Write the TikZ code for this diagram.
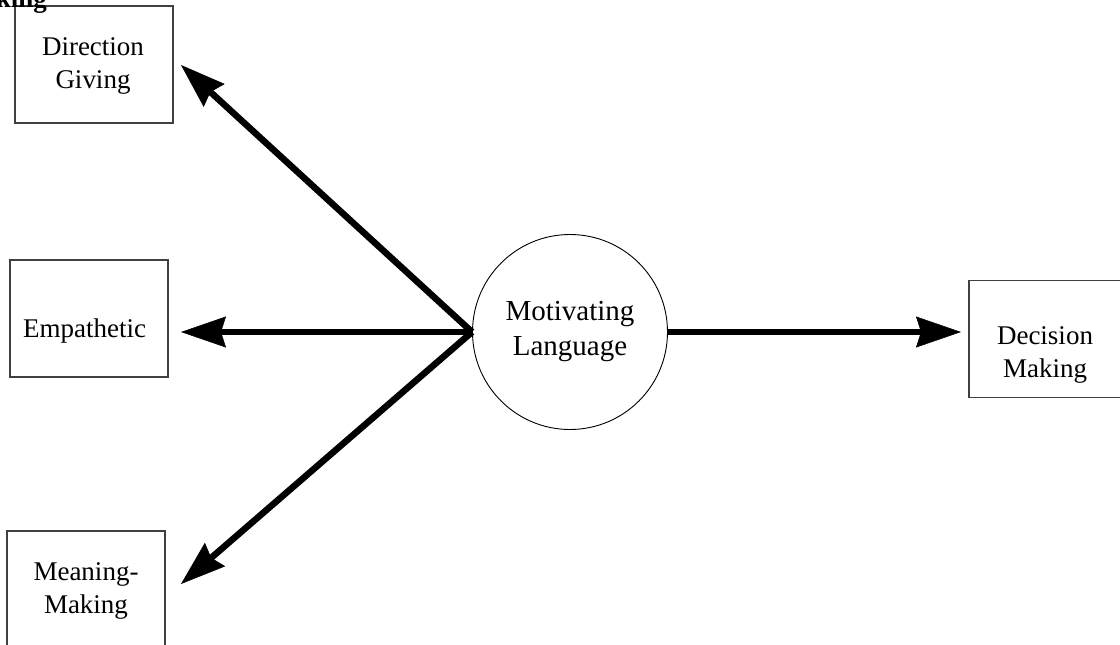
\documentclass[tikz,border=0pt]{standalone}
\usepackage{fontspec}
\setmainfont{Liberation Serif}
\usetikzlibrary{arrows.meta}
\begin{document}
\begin{tikzpicture}[x=1pt,y=-1pt,
  box/.style={draw=black!75,line width=1.3pt,minimum width=158pt,minimum height=117pt,inner sep=0pt},
  lbl/.style={align=center,inner sep=0pt,font=\fontsize{27}{33}\selectfont},
  hub/.style={draw,circle,line width=0.9pt,minimum size=195pt,inner sep=0pt,align=center,font=\fontsize{29}{35}\selectfont},
  link/.style={line width=6.5pt,-{Stealth[length=45pt,width=31pt,inset=5pt,line width=0.5pt]}}]
\useasboundingbox (0,0) rectangle (1120,645);
% boxes
\node[box] (dg) at (94,64.5) {};
\node[box] (em) at (89,318.5) {};
\node[box] (mm) at (86,589.5) {};
\node[box] (dm) at (1048,339) {};
% labels
\node[lbl] (dgt) at (93,65.7) {Direction\\Giving};
\node[lbl] (emt) at (84.5,331) {Empathetic};
\node[lbl] (mmt) at (86,590.5) {Meaning-\\Making};
\node[lbl] (dmt) at (1045,354.6) {Decision\\Making};
% hub
\node[hub] (ml) at (570,332) {Motivating\\Language};
% cut-off heading
\node[anchor=base east,inner sep=0pt,font=\fontsize{27}{30}\selectfont\bfseries] (hd) at (47,7) {Making};
% arrow tips
\coordinate (tdg) at (181,65);
\coordinate (tem) at (181,332);
\coordinate (tmm) at (181,584);
\coordinate (tdm) at (961,332);
% connectors
\draw[link] (ml.west) -- (tdg);
\draw[link] (ml.west) -- (tem);
\draw[link] (ml.west) -- (tmm);
\draw[link] (ml.east) -- (tdm);
\end{tikzpicture}
\end{document}
